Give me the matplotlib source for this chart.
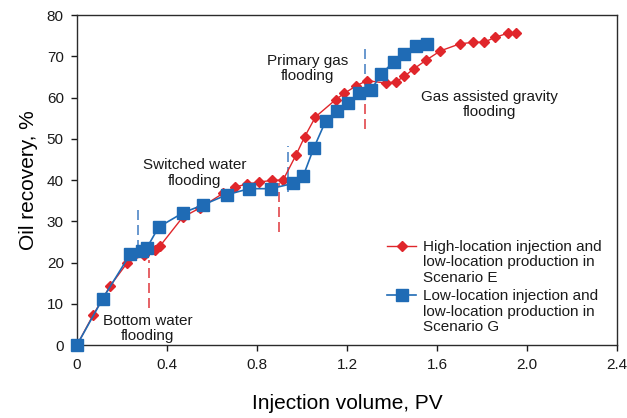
import numpy as np
import matplotlib
matplotlib.use("Agg")
import matplotlib.pyplot as plt
from matplotlib.legend_handler import HandlerLine2D

plt.rcParams['font.family'] = ['Liberation Sans', 'DejaVu Sans']

# ---- data ----
red_x = [0, 0.072, 0.147, 0.223, 0.298, 0.347, 0.369, 0.47, 0.546, 0.650, 0.702, 0.754,
         0.808, 0.865, 0.916, 0.973, 1.012, 1.060, 1.150, 1.188, 1.240, 1.288, 1.372,
         1.417, 1.454, 1.496, 1.553, 1.615, 1.701, 1.762, 1.808, 1.860, 1.915, 1.952]
red_y = [0, 7.3, 14.3, 19.9, 21.9, 23.1, 24.0, 31.0, 33.2, 36.8, 38.3, 39.0,
         39.5, 39.9, 40.0, 46.0, 50.5, 55.3, 59.5, 61.0, 62.8, 64.1, 63.5,
         63.8, 65.1, 66.9, 69.1, 71.3, 73.0, 73.4, 73.4, 74.6, 75.6, 75.7]

blue_x = [0, 0.114, 0.236, 0.287, 0.310, 0.363, 0.473, 0.562, 0.665, 0.765, 0.862, 0.962,
          1.005, 1.052, 1.106, 1.157, 1.205, 1.254, 1.305, 1.353, 1.408, 1.455, 1.505, 1.557]
blue_y = [0, 11.2, 22.0, 22.7, 23.5, 28.6, 32.1, 34.0, 36.4, 37.9, 37.9, 39.2,
          40.9, 47.7, 54.4, 56.8, 58.6, 61.2, 61.7, 65.7, 68.7, 70.6, 72.6, 73.0]

# stage boundaries (x, ymin, ymax)
blue_div_x = [0.272, 0.937, 1.279]
blue_div_lo = [23.0, 37.0, 62.0]
blue_div_hi = [33.2, 48.2, 72.8]
red_div_x = [0.321, 0.898, 1.279]
red_div_lo = [9.0, 27.5, 52.3]
red_div_hi = [20.6, 39.3, 62.5]

stage_labels = ["Bottom water\nflooding", "Switched water\nflooding",
                "Primary gas\nflooding", "Gas assisted gravity\nflooding"]
stage_x = [0.313, 0.522, 1.023, 1.832]
stage_y = [4.1, 41.7, 67.0, 58.2]

label_red = "High-location injection and\nlow-location production in\nScenario E"
label_blue = "Low-location injection and\nlow-location production in\nScenario G"

x_ticks = [0, 0.4, 0.8, 1.2, 1.6, 2.0, 2.4]
x_ticklabels = ["0", "0.4", "0.8", "1.2", "1.6", "2.0", "2.4"]
y_ticks = [0, 10, 20, 30, 40, 50, 60, 70, 80]

RED = "#E0262B"
BLUE = "#1F6BB5"
RED_D = "#E2474B"
BLUE_D = "#4F86C6"

fig = plt.figure(figsize=(6.27, 4.18), dpi=100)
ax = fig.add_axes([0.1228, 0.1746, 0.8612, 0.7895])

ax.vlines(blue_div_x, blue_div_lo, blue_div_hi, colors=BLUE_D, linestyles=(0, (6, 3)), lw=1.2, zorder=1)
ax.vlines(red_div_x, red_div_lo, red_div_hi, colors=RED_D, linestyles=(0, (6, 3)), lw=1.2, zorder=1)

lr, = ax.plot(red_x, red_y, color=RED, marker='D', markersize=5.2, lw=1.0, label=label_red,
              zorder=3, clip_on=False)
lb, = ax.plot(blue_x, blue_y, color=BLUE, marker='s', markersize=8.2, lw=1.2, label=label_blue,
              zorder=4, clip_on=False)

for s, x, y in zip(stage_labels, stage_x, stage_y):
    ax.text(x, y, s, ha='center', va='center', fontsize=11, linespacing=1.1, color='#1a1a1a', zorder=5)

ax.set_xlim(0, 2.4)
ax.set_ylim(0, 80)
ax.set_xticks(x_ticks)
ax.set_xticklabels(x_ticklabels)
ax.set_yticks(y_ticks)
ax.tick_params(direction='out', length=4.5, width=1, labelsize=11, colors='#1a1a1a', pad=5)
for sp in ax.spines.values():
    sp.set_color('#2b2b2b')
    sp.set_linewidth(1.0)

ax.set_xlabel("Injection volume, PV", fontsize=15, labelpad=16)
ax.set_ylabel("Oil recovery, %", fontsize=15, labelpad=6)


class TopHandler(HandlerLine2D):
    def create_artists(self, legend, orig_handle, xdescent, ydescent, width, height, fontsize, trans):
        arts = super().create_artists(legend, orig_handle, xdescent, ydescent, width, height, fontsize, trans)
        for a in arts:
            a.set_ydata(np.asarray(a.get_ydata()) + 1.1 * fontsize)
        return arts


leg = ax.legend(handles=[lr, lb], loc='upper left', bbox_to_anchor=(0.5735, 0.318),
                frameon=False, fontsize=11, handlelength=1.95, handletextpad=0.42,
                labelspacing=0.3, borderpad=0, borderaxespad=0,
                handler_map={lr: TopHandler(), lb: TopHandler()})
for t in leg.get_texts():
    t.set_linespacing(1.12)
    t.set_color('#1a1a1a')

fig.savefig("out.png", dpi=100)
